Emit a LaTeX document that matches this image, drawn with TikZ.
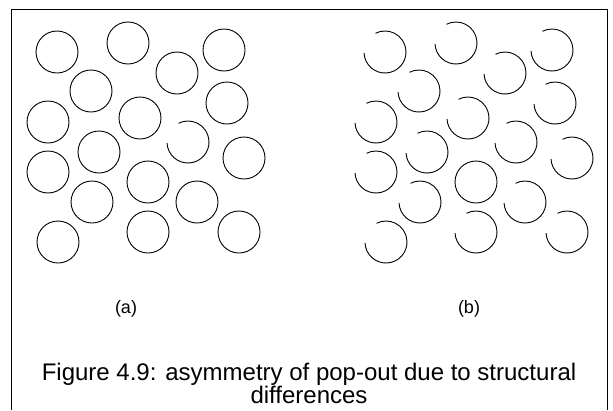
\documentclass[tikz,border=0pt]{standalone}
\usepackage{fontspec}
\setmainfont{Liberation Sans}
\begin{document}
\begin{tikzpicture}[x=1pt,y=1pt,
  ring/.style={circle,draw,line width=0.9pt,minimum size=42pt,inner sep=0pt},
  openring/.style={line width=0.9pt},
  frame/.style={line width=0.8pt},
  lab/.style={font=\fontsize{18}{20}\selectfont,anchor=base,inner sep=0pt},
  captext/.style={font=\fontsize{24}{26}\selectfont,anchor=base,inner sep=0pt}]
\useasboundingbox (0,0) rectangle (613,-410);
\draw[frame] (11,-410) -- (11,-9) -- (607,-9) -- (607,-410);
% panel (a)
\foreach \n/\x/\y in {1/57/52,2/128/43,3/177/73,4/224/50,5/91/91,6/48/122,7/140/118,8/227/103,
  10/99/152,11/244/158,12/48/172,13/148/182,14/92/202,15/197/202,16/58/242,17/148/232,18/239/232}
  \node[ring] (a\n) at (\x,-\y) {};
\coordinate (a9) at (188,-142);
\draw[openring] ([shift={(a9)}]183:21) arc[start angle=183,end angle=477,radius=21];
% panel (b)
\foreach \n/\x/\y in {1/385/52,2/456/43,3/505/73,4/552/50,5/419/91,6/376/122,7/468/118,8/555/103,
  9/516/142,10/427/152,11/572/158,12/376/172,14/420/202,15/525/202,16/386/242,17/476/232,18/567/232}
  {\coordinate (b\n) at (\x,-\y);
   \draw[openring] ([shift={(b\n)}]183:21) arc[start angle=183,end angle=477,radius=21];}
\node[ring] (b13) at (476,-182) {};
\node[lab] (la) at (126,-313) {(a)};
\node[lab] (lb) at (469,-313) {(b)};
\node[captext] (cap1) at (309,-380) {Figure 4.9: asymmetry of pop-out due to structural};
\node[captext] (cap2) at (309,-403) {differences};
\end{tikzpicture}
\end{document}
